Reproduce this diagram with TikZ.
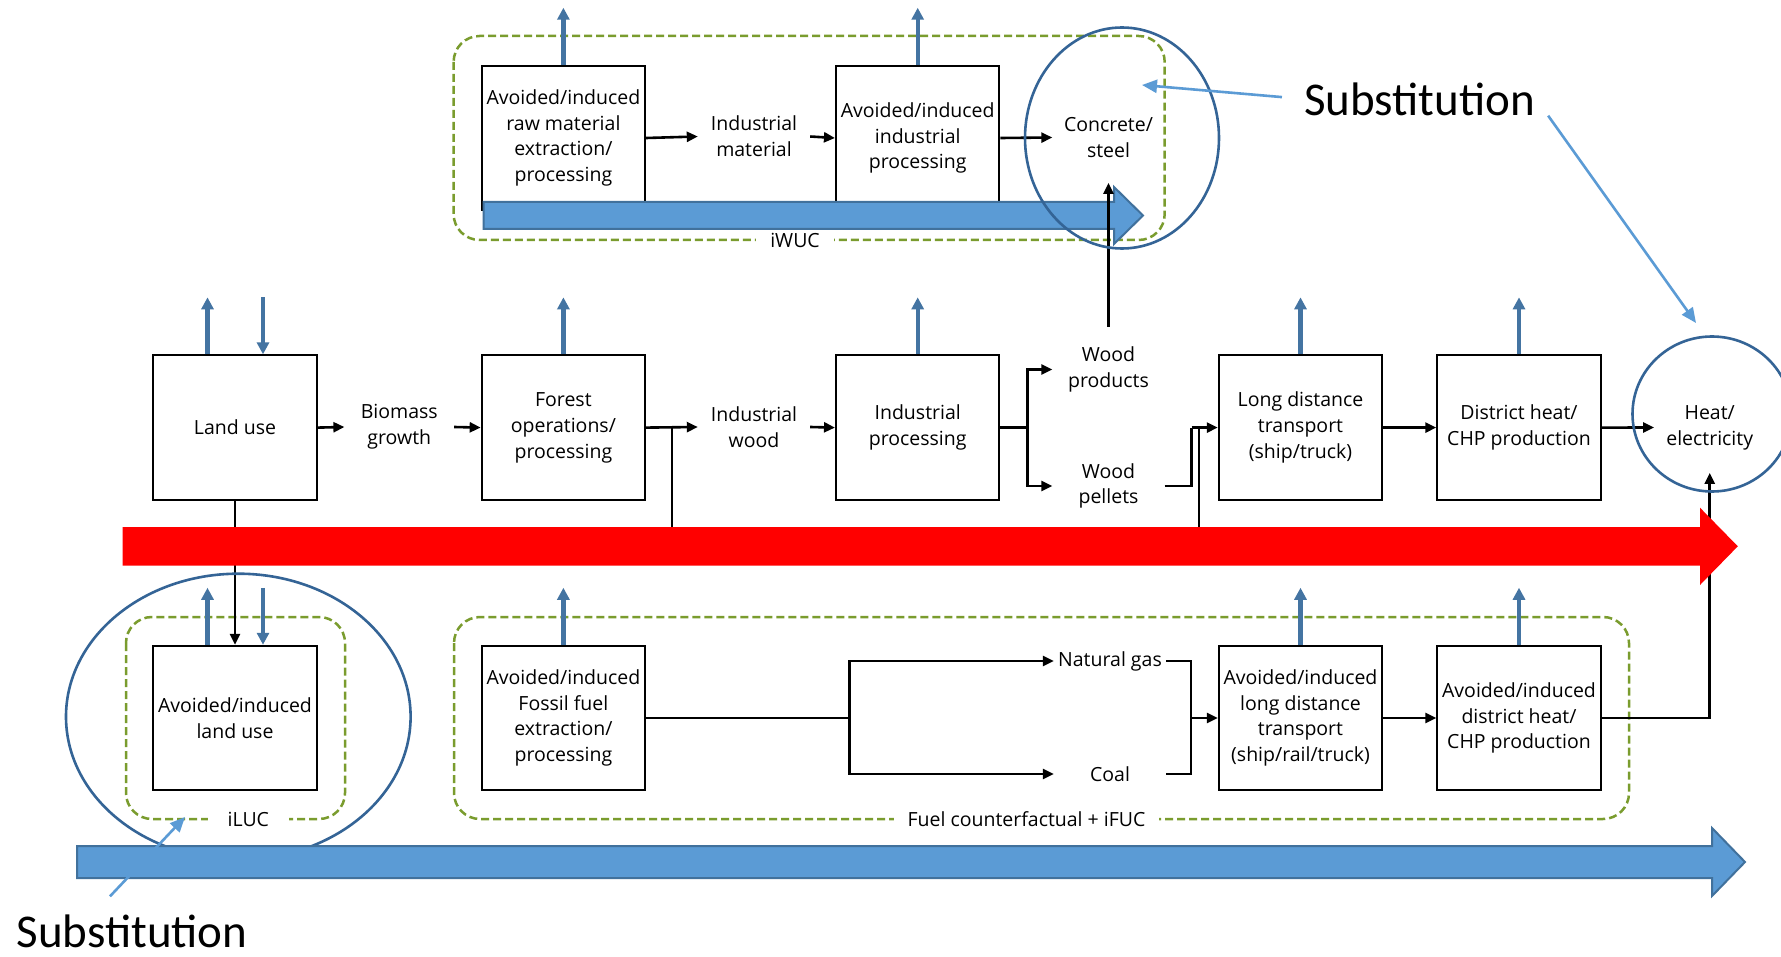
\documentclass[tikz,border=0pt]{standalone}
\usepackage{fontspec}
\setmainfont{Open Sans}
\newfontfamily\subfont{Carlito}
\usetikzlibrary{arrows.meta}
\definecolor{bluearr}{RGB}{68,116,162}
\definecolor{ellblue}{RGB}{52,100,150}
\definecolor{grn}{RGB}{122,156,46}
\definecolor{fillblue}{RGB}{91,155,213}
\definecolor{edgeblue}{RGB}{65,113,156}
\definecolor{lightarr}{RGB}{91,155,213}
\tikzset{
  box/.style={draw, line width=2pt, minimum width=163.5pt, minimum height=144.5pt, align=center, inner sep=0pt, font=\fontsize{19.5}{25.8}\selectfont},
  lbl/.style={align=center, inner sep=0pt, minimum width=112pt, font=\fontsize{19.5}{25.8}\selectfont},
  arr/.style={line width=2.6pt, -{Triangle[length=11pt,width=10pt]}},
  ln/.style={line width=2.6pt},
  barr/.style={draw=bluearr, line width=4.2pt, -{Triangle[length=12pt,width=12pt]}},
  grp/.style={draw=grn, line width=2.5pt, dash pattern=on 8pt off 4pt, rounded corners=26pt},
  grplbl/.style={fill=white, inner xsep=14pt, inner ysep=2pt, font=\fontsize{19.5}{25.8}\selectfont},
  ell/.style={draw=ellblue, line width=2.6pt},
  blk/.style={fill=fillblue, draw=edgeblue, line width=2pt},
  sarr/.style={draw=lightarr, line width=2.6pt, -{Triangle[length=15pt,width=13pt]}},
  subst/.style={inner sep=0pt, font=\subfont\fontsize{47}{50}\selectfont}
}
\begin{document}
\begin{tikzpicture}[x=1pt,y=-1pt]
\useasboundingbox (0,0) rectangle (1781,957);
\fill[white] (0,0) rectangle (1781,957);
% ---------- groups ----------
\draw[grp] (453.6,36) rectangle (1164.7,240);
\node[grplbl] (iwuc) at (795,240) {iWUC};
\draw[grp] (126,617) rectangle (345,819);
\node[grplbl, inner xsep=20pt] (iluc) at (248.3,819) {iLUC};
\draw[grp] (454,617) rectangle (1629,819);
\node[grplbl] (ifuc) at (1026.5,819) {Fuel counterfactual + iFUC};
% ---------- top row ----------
\node[box] (A1) at (563.4,138) {Avoided/induced\\raw material\\extraction/\\processing};
\node[lbl] (IM) at (754,136.5) {Industrial\\material};
\node[box] (A2) at (917.7,138) {Avoided/induced\\industrial\\processing};
\node[lbl, minimum height=90.4pt] (CS) at (1108.5,137.5) {Concrete/\\steel};
% ---------- middle row ----------
\node[box] (LU) at (235,427.6) {Land use};
\node[lbl, minimum width=109.4pt] (BG) at (399.3,427) {Biomass\\growth};
\node[box] (FO) at (563.4,427.6) {Forest\\operations/\\processing};
\node[lbl] (IW) at (754,427) {Industrial\\wood};
\node[box] (IP) at (917.7,427.6) {Industrial\\processing};
\node[lbl, minimum height=84.6pt] (WP) at (1108.5,369.5) {Wood\\products};
\node[lbl] (WPel) at (1108.5,486) {Wood\\pellets};
\node[box] (LD) at (1300.5,427.6) {Long distance\\transport\\(ship/truck)};
\node[box] (DH) at (1519,427.6) {District heat/\\CHP production};
\node[lbl, minimum width=111pt, minimum height=90.4pt] (HE) at (1709.7,427.5) {Heat/\\electricity};
% ---------- bottom row ----------
\node[box] (ALU) at (235,718) {Avoided/induced\\land use};
\node[box] (FF) at (563.4,718) {Avoided/induced\\Fossil fuel\\extraction/\\processing};
\node[lbl] (NG) at (1110,661) {Natural gas};
\node[lbl] (CO) at (1110,774) {Coal};
\node[box] (ALD) at (1300.5,718) {Avoided/induced\\long distance\\transport\\(ship/rail/truck)};
\node[box] (ADH) at (1519,718) {Avoided/induced\\district heat/\\CHP production};
% ---------- junctions ----------
\coordinate (rmid) at (0,546);
\coordinate (jFO) at (672,427.6);
\coordinate (jIP) at (1027.4,427.6);
\coordinate (jWP) at (1191.7,427.6);
\coordinate (jRes) at (1199,427.6);
\coordinate (jFF) at (849.7,718);
\coordinate (jNG) at (1191,718);
% ---------- top block arrow ----------
\draw[blk] (483.6,202) -- (1114,202) -- (1114,187) -- (1143,215.5) -- (1114,244) -- (1114,229) -- (483.6,229) -- cycle;
% ---------- black connectors ----------
\draw[arr] (A1.east) -- (IM.west);
\draw[arr] (IM.east) -- (A2.west);
\draw[arr] (A2.east) -- (CS.west);
\draw[arr] (WP.north) -- (CS.south);
\draw[arr] (LU.east) -- (BG.west);
\draw[arr] (BG.east) -- (FO.west);
\draw[arr] (FO.east) -- (IW.west);
\draw[ln] (jFO) -- (jFO |- rmid);
\draw[arr] (IW.east) -- (IP.west);
\draw[ln] (IP.east) -- (jIP);
\draw[arr] (jIP) |- (WP.west);
\draw[arr] (jIP) |- (WPel.west);
\draw[ln] (WPel.east) -| (jWP);
\draw[arr] (jWP) -- (LD.west);
\draw[ln] (jRes) -- (jRes |- rmid);
\draw[arr] (LD.east) -- (DH.west);
\draw[arr] (DH.east) -- (HE.west);
\draw[arr] (LU.south) -- (ALU.north);
\draw[ln] (FF.east) -- (jFF);
\draw[arr] (jFF) |- (NG.west);
\draw[arr] (jFF) |- (CO.west);
\draw[ln] (NG.east) -| (jNG);
\draw[ln] (CO.east) -| (jNG);
\draw[arr] (jNG) -- (ALD.west);
\draw[arr] (ALD.east) -- (ADH.west);
\draw[arr] (ADH.east) -| (HE.south);
% ---------- blue emission arrows ----------
\draw[barr] (A1.north) -- ++(0,-57);
\draw[barr] (A2.north) -- ++(0,-57);
\draw[barr] ([xshift=-27.5pt]LU.north) -- ++(0,-57);
\draw[barr] ([xshift=28pt]LU.north) ++(0,-57) -- ([xshift=28pt]LU.north);
\draw[barr] (FO.north) -- ++(0,-57);
\draw[barr] (IP.north) -- ++(0,-57);
\draw[barr] (LD.north) -- ++(0,-57);
\draw[barr] (DH.north) -- ++(0,-57);
\draw[barr] ([xshift=-27.5pt]ALU.north) -- ++(0,-57);
\draw[barr] ([xshift=28pt]ALU.north) ++(0,-57) -- ([xshift=28pt]ALU.north);
\draw[barr] (FF.north) -- ++(0,-57);
\draw[barr] (ALD.north) -- ++(0,-57);
\draw[barr] (ADH.north) -- ++(0,-57);
% ---------- red bar ----------
\fill[red] (122.7,527) -- (1700,527) -- (1700,507.7) -- (1737.8,546.3) -- (1700,585) -- (1700,565.6) -- (122.7,565.6) -- cycle;
% ---------- ellipses ----------
\draw[ell] (1122,138) ellipse [x radius=97pt, y radius=110.5pt];
\draw[ell] (1712,414) ellipse [x radius=79.5pt, y radius=77.5pt];
\draw[ell] (238.3,716.7) ellipse [x radius=172.3pt, y radius=143pt];
% ---------- bottom block arrow ----------
\draw[blk] (77,846) -- (1712,846) -- (1712,828) -- (1745,862) -- (1712,896) -- (1712,878) -- (77,878) -- cycle;
% ---------- substitution ----------
\node[subst] (S1) at (1419.5,99) {Substitution};
\node[subst] (S2) at (132,931) {Substitution};
\coordinate (t1) at (1142,85);
\coordinate (t2) at (1696,323);
\coordinate (t3) at (185,817);
\draw[sarr, shorten <=22pt] (S1.west) -- (t1);
\draw[sarr] ([xshift=13pt]S1.south east) -- (t2);
\draw[sarr] ([xshift=-22pt,yshift=18pt]S2.north) -- (t3);
\end{tikzpicture}
\end{document}
